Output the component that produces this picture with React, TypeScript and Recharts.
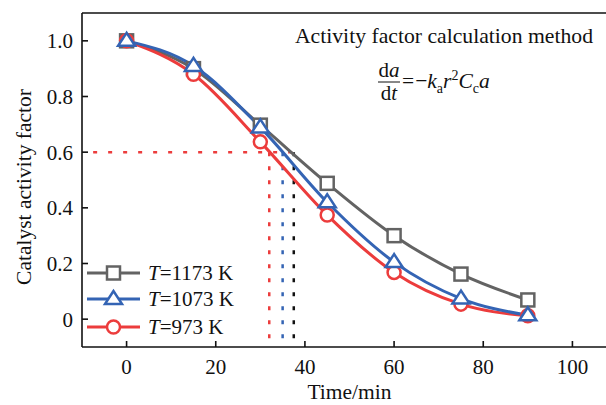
import React from 'react';
import { LineChart, Line, XAxis, YAxis, ReferenceLine, Label } from 'recharts';

// sampling times (min) and measured catalyst activity factor
const times = [0, 15, 30, 45, 60, 75, 90];
const act1173 = [1.0, 0.9, 0.697, 0.488, 0.3, 0.162, 0.069];
const act1073 = [1.0, 0.91, 0.689, 0.42, 0.205, 0.074, 0.014];
const act973 = [1.0, 0.88, 0.637, 0.374, 0.168, 0.054, 0.012];

const xTicks = [0, 20, 40, 60, 80, 100];
const yTicks = [0, 0.2, 0.4, 0.6, 0.8, 1.0];
const xDomain = [-10, 110];
const yDomain = [-0.1, 1.1];

// activity = 0.6 guide lines
const guideLevel = 0.6;
const guideStart = -7.5;
const guideEnd = 38.5;
const crossRed = 32;
const crossBlue = 35;
const crossBlack = 37.5;

const GRAY = '#636363';
const BLUE = '#3464b4';
const RED = '#ec3c3c';
const FONT = '"Liberation Serif", "Times New Roman", serif';

const data = times.map((t, i) => ({ t, g: act1173[i], b: act1073[i], r: act973[i] }));

const squareDot = (p: any) => {
  if (p.cx == null || p.cy == null) return <g key={p.index} />;
  return (
    <rect key={p.index} x={p.cx - 6.5} y={p.cy - 6.5} width={13} height={13}
      fill="#fff" stroke={GRAY} strokeWidth={2.5} />
  );
};

const triPoints = (cx: number, cy: number) =>
  `${cx},${cy - 8} ${cx - 8.5},${cy + 5} ${cx + 8.5},${cy + 5}`;

const triangleDot = (p: any) => {
  if (p.cx == null || p.cy == null) return <g key={p.index} />;
  return (
    <polygon key={p.index} points={triPoints(p.cx, p.cy)}
      fill="#fff" stroke={BLUE} strokeWidth={2.5} />
  );
};

const circleDot = (p: any) => {
  if (p.cx == null || p.cy == null) return <g key={p.index} />;
  return <circle key={p.index} cx={p.cx} cy={p.cy} r={6.5} fill="#fff" stroke={RED} strokeWidth={2.5} />;
};

const legendRows = [
  { label: '1173', color: GRAY, shape: 'square', y: 273 },
  { label: '1073', color: BLUE, shape: 'triangle', y: 299 },
  { label: '973', color: RED, shape: 'circle', y: 327 },
];

const tickStyle = { fontFamily: FONT, fontSize: 21, fill: '#111' };
const fmtY = (v: number) => (v === 0 ? '0' : v.toFixed(1));

export default function App() {
  return (
    <div style={{ position: 'relative', width: 606, height: 405, overflow: 'hidden', background: '#fff' }}>
      <style>{'html,body{margin:0;padding:0;overflow:hidden;}'}</style>
      <LineChart width={640} height={405} data={data} margin={{ top: 13, right: 23, bottom: 0, left: 0 }}>
        <XAxis
          dataKey="t"
          type="number"
          domain={xDomain}
          ticks={xTicks}
          allowDataOverflow
          height={58}
          tick={tickStyle}
          tickSize={-6}
          tickMargin={18}
          stroke="#111"
          strokeWidth={1.6}
        >
          <Label value="Time/min" position="insideBottom" offset={6}
            style={{ fontFamily: FONT, fontSize: 21.5, fill: '#111' }} />
        </XAxis>
        <YAxis
          type="number"
          domain={yDomain}
          ticks={yTicks}
          allowDataOverflow
          width={82}
          tick={tickStyle}
          tickFormatter={fmtY}
          tickSize={-6}
          tickMargin={15}
          stroke="#111"
          strokeWidth={1.6}
        />
        <ReferenceLine y={yDomain[1]} stroke="#111" strokeWidth={1.6} />

        <ReferenceLine segment={[{ x: guideStart, y: guideLevel }, { x: guideEnd, y: guideLevel }]}
          stroke={RED} strokeWidth={2.5} strokeDasharray="4 11" />
        <ReferenceLine segment={[{ x: crossRed, y: guideLevel }, { x: crossRed, y: yDomain[0] }]}
          stroke={RED} strokeWidth={2.5} strokeDasharray="4 10" />
        <ReferenceLine segment={[{ x: crossBlue, y: guideLevel }, { x: crossBlue, y: yDomain[0] }]}
          stroke={BLUE} strokeWidth={2.5} strokeDasharray="4 10" />
        <ReferenceLine segment={[{ x: crossBlack, y: guideLevel }, { x: crossBlack, y: yDomain[0] }]}
          stroke="#111" strokeWidth={2.5} strokeDasharray="4 10" />

        <Line dataKey="g" type="monotone" stroke={GRAY} strokeWidth={3} dot={squareDot} isAnimationActive={false} />
        <Line dataKey="r" type="monotone" stroke={RED} strokeWidth={3} dot={circleDot} isAnimationActive={false} />
        <Line dataKey="b" type="monotone" stroke={BLUE} strokeWidth={3} dot={triangleDot} isAnimationActive={false} />
      </LineChart>

      <svg width={606} height={405} style={{ position: 'absolute', left: 0, top: 0, pointerEvents: 'none' }}
        fontFamily={FONT} fontSize={21} fill="#111">
        <text transform="translate(24,187) rotate(-90)" textAnchor="middle" dominantBaseline="central" fontSize={21.5}>
          Catalyst activity factor
        </text>

        {legendRows.map((row) => (
          <g key={row.label}>
            <line x1={87} x2={140} y1={row.y} y2={row.y} stroke={row.color} strokeWidth={3} />
            {row.shape === 'square' && (
              <rect x={107} y={row.y - 6.5} width={13} height={13} fill="#fff" stroke={row.color} strokeWidth={2.5} />
            )}
            {row.shape === 'triangle' && (
              <polygon points={triPoints(113.5, row.y)} fill="#fff" stroke={row.color} strokeWidth={2.5} />
            )}
            {row.shape === 'circle' && (
              <circle cx={113.5} cy={row.y} r={6.5} fill="#fff" stroke={row.color} strokeWidth={2.5} />
            )}
            <text x={148} y={row.y + 7}>
              <tspan fontStyle="italic">T</tspan>
              <tspan>={row.label} K</tspan>
            </text>
          </g>
        ))}

        <text x={444} y={43} textAnchor="middle" fontSize={21.7}>Activity factor calculation method</text>

        <text x={389} y={77} textAnchor="middle">
          <tspan>d</tspan><tspan fontStyle="italic">a</tspan>
        </text>
        <line x1={378} x2={400} y1={82} y2={82} stroke="#111" strokeWidth={1} />
        <text x={389} y={100} textAnchor="middle">
          <tspan>d</tspan><tspan fontStyle="italic">t</tspan>
        </text>
        <text x={402} y={88} fontSize={21.5}>
          <tspan>=</tspan>
          <tspan dx={1}>−</tspan>
          <tspan fontStyle="italic">k</tspan>
          <tspan fontSize={14} dy={5}>a</tspan>
          <tspan fontStyle="italic" dy={-5}>r</tspan>
          <tspan fontSize={14} dy={-8}>2</tspan>
          <tspan fontStyle="italic" dy={8}>C</tspan>
          <tspan fontSize={14} dy={5}>c</tspan>
          <tspan fontStyle="italic" dy={-5}>a</tspan>
        </text>
      </svg>
    </div>
  );
}
